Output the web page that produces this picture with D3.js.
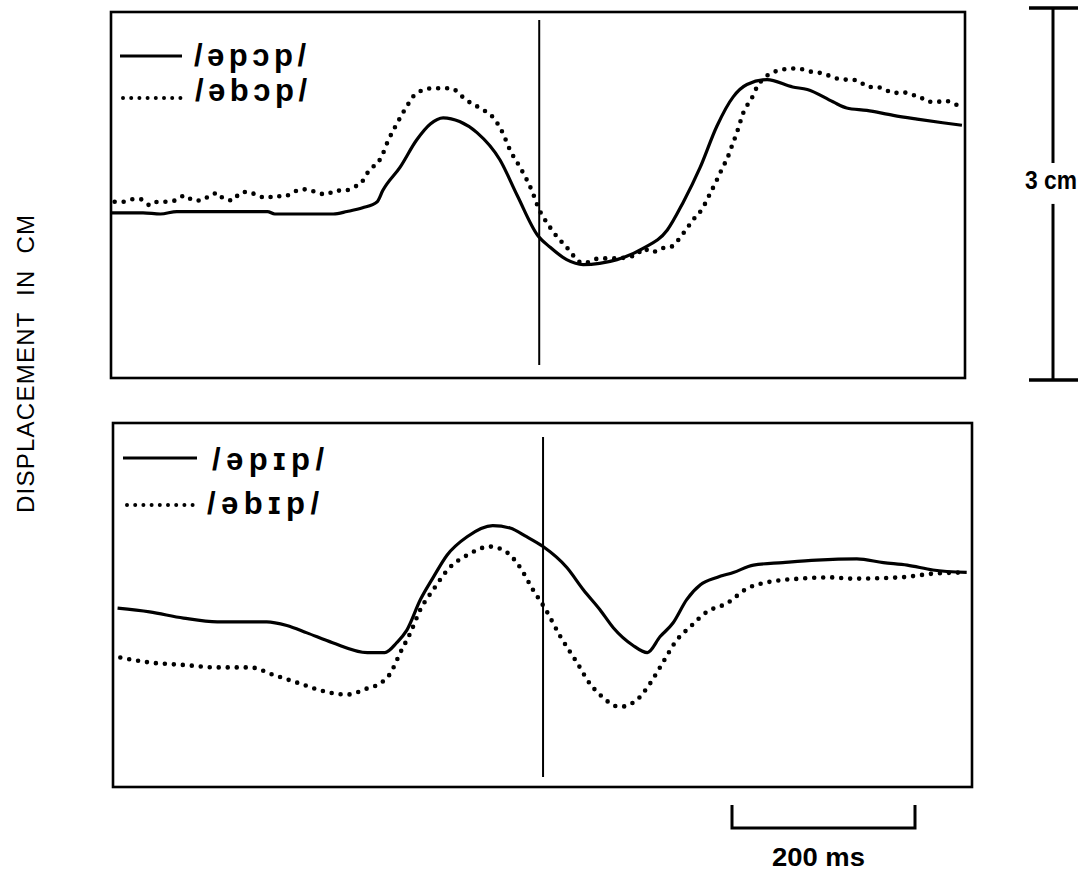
<!DOCTYPE html>
<html>
<head>
<meta charset="utf-8">
<script src="https://cdn.jsdelivr.net/npm/d3@7"></script>
<style>
  html, body { margin: 0; padding: 0; background: #fff; }
  svg { display: block; }
  text { font-family: "Liberation Sans", Arial, "DejaVu Sans", sans-serif; fill: #000; }
</style>
</head>
<body>
<svg id="chart" width="1083" height="872"></svg>
<script>
// ---- Data (time in ms from panel start, displacement in cm above panel floor) ----
const legendTop = ["/əpɔp/", "/əbɔp/"];
const legendBottom = ["/əpɪp/", "/əbɪp/"];
const yAxisLabel = "DISPLACEMENT  IN  CM";
const scaleBarCm = 3;
const scaleBarCmLabel = "3 cm";
const scaleBarMs = 200;
const scaleBarMsLabel = "200 ms";
const eventTimes = [468, 470];

const topSolidT = [0,35,54,72,171,179,243,258,275,291,297,316,334,349,363,381,400,425,444,466,480,498,516,534,553,581,608,625,644,662,680,695,717,745,761,789,804,826,855,881,909,930];
const topSolidD = [1.34,1.34,1.33,1.35,1.35,1.33,1.33,1.35,1.38,1.43,1.52,1.71,1.93,2.06,2.11,2.08,1.99,1.77,1.48,1.16,1.06,0.96,0.92,0.93,0.96,1.05,1.20,1.42,1.71,2.04,2.28,2.38,2.42,2.36,2.34,2.24,2.19,2.17,2.13,2.10,2.07,2.05];

const topDotT = [4,15,24,32,43,51,61,70,81,90,99,108,117,122,133,141,150,160,171,179,188,198,207,215,226,236,245,256,265,272,281,286,292,296,302,313,323,334,352,371,389,403,418,428,436,447,461,466,480,498,516,534,553,564,575,581,592,600,611,620,630,638,646,653,663,668,674,679,684,691,701,706,715,724,733,742,751,761,769,778,789,799,808,819,827,837,846,855,865,873,884,893,903,912,919,930];
const topDotD = [1.43,1.43,1.45,1.45,1.40,1.43,1.43,1.44,1.48,1.44,1.44,1.48,1.50,1.46,1.44,1.50,1.51,1.48,1.46,1.48,1.47,1.50,1.53,1.53,1.50,1.49,1.52,1.52,1.55,1.57,1.67,1.71,1.75,1.80,1.91,2.07,2.20,2.31,2.35,2.35,2.25,2.19,2.11,1.99,1.85,1.71,1.50,1.40,1.22,1.06,0.93,0.97,0.97,0.98,1.00,1.05,1.02,1.05,1.06,1.12,1.22,1.30,1.37,1.47,1.62,1.70,1.79,1.89,1.99,2.15,2.28,2.36,2.44,2.48,2.50,2.51,2.51,2.49,2.48,2.47,2.44,2.42,2.42,2.40,2.36,2.36,2.34,2.31,2.32,2.30,2.28,2.24,2.24,2.25,2.23,2.20];

const botSolidT = [5,40,77,114,168,190,212,240,278,297,310,321,336,350,365,387,415,434,452,470,496,514,532,547,568,584,598,612,627,642,660,678,700,732,769,813,842,868,896,933];
const botSolidD = [1.45,1.42,1.37,1.34,1.34,1.31,1.25,1.17,1.09,1.09,1.17,1.27,1.52,1.70,1.88,2.03,2.12,2.10,2.03,1.95,1.78,1.60,1.44,1.29,1.15,1.09,1.22,1.33,1.52,1.64,1.70,1.74,1.80,1.82,1.84,1.85,1.82,1.80,1.76,1.74];

const botDotT = [8,40,77,114,150,175,204,234,256,278,292,303,314,325,336,350,368,387,412,431,445,459,472,489,507,521,532,554,573,587,601,616,631,649,671,693,715,751,787,806,860,896,929];
const botDotD = [1.05,1.01,0.99,0.97,0.97,0.91,0.84,0.77,0.75,0.80,0.84,0.92,1.09,1.25,1.44,1.60,1.78,1.88,1.95,1.90,1.78,1.60,1.45,1.22,1.01,0.84,0.75,0.65,0.71,0.84,1.01,1.19,1.30,1.42,1.49,1.61,1.66,1.69,1.70,1.69,1.70,1.73,1.74];

// ---- Layout ----
const svg = d3.select("#chart");
const PX_PER_MS = 0.915;   // from the 200 ms scale bar
const PX_PER_CM = 123.3;   // from the 3 cm scale bar

const panels = [
  { box: {left: 111, right: 965, top: 12, bottom: 378}, solid: [topSolidT, topSolidD], dots: [topDotT, topDotD],
    legend: legendTop, event: eventTimes[0], evY: [20, 365],
    leg: { solid: [120, 182, 56], dot: [123, 182, 98], text: [[194, 66], [195, 101]] } },
  { box: {left: 113, right: 972, top: 423, bottom: 787}, solid: [botSolidT, botSolidD], dots: [botDotT, botDotD],
    legend: legendBottom, event: eventTimes[1], evY: [437, 777],
    leg: { solid: [123, 197, 458], dot: [127, 198, 505], text: [[212, 470], [207, 514]] } }
];

panels.forEach(p => {
  const b = p.box;
  const x = d3.scaleLinear().domain([0, (b.right - b.left) / PX_PER_MS]).range([b.left, b.right]);
  const y = d3.scaleLinear().domain([0, (b.bottom - b.top) / PX_PER_CM]).range([b.bottom, b.top]);
  const g = svg.append("g");

  g.append("rect").attr("x", b.left).attr("y", b.top)
    .attr("width", b.right - b.left).attr("height", b.bottom - b.top)
    .attr("fill", "none").attr("stroke", "#000").attr("stroke-width", 2.6);

  g.append("line")
    .attr("x1", x(p.event)).attr("x2", x(p.event))
    .attr("y1", p.evY[0]).attr("y2", p.evY[1])
    .attr("stroke", "#000").attr("stroke-width", 2);

  const curveLine = d3.line().x(d => x(d[0])).y(d => y(d[1])).curve(d3.curveMonotoneX);
  const solidPts = p.solid[0].map((t, i) => [t, p.solid[1][i]]);
  const dotPts = p.dots[0].map((t, i) => [t, p.dots[1][i]]);

  g.append("path").datum(solidPts).attr("d", curveLine)
    .attr("fill", "none").attr("stroke", "#000").attr("stroke-width", 3.2)
    .attr("stroke-linejoin", "round");
  g.append("path").datum(dotPts).attr("d", curveLine)
    .attr("fill", "none").attr("stroke", "#000").attr("stroke-width", 4.6)
    .attr("stroke-linecap", "round").attr("stroke-dasharray", "0 9");

  const L = p.leg;
  g.append("line").attr("x1", L.solid[0]).attr("x2", L.solid[1]).attr("y1", L.solid[2]).attr("y2", L.solid[2])
    .attr("stroke", "#000").attr("stroke-width", 3);
  g.append("line").attr("x1", L.dot[0]).attr("x2", L.dot[1]).attr("y1", L.dot[2]).attr("y2", L.dot[2])
    .attr("stroke", "#000").attr("stroke-width", 4).attr("stroke-linecap", "round").attr("stroke-dasharray", "0 8.2");
  p.legend.forEach((lab, i) => {
    g.append("text").attr("x", L.text[i][0]).attr("y", L.text[i][1])
      .attr("font-size", 31).attr("font-weight", "bold")
      .attr("textLength", 112).attr("lengthAdjust", "spacing")
      .text(lab);
  });
});

// ---- 3 cm scale bar ----
const ybar = d3.scaleLinear().domain([0, scaleBarCm]).range([380, 8]);
const barX = 1053;
const sb = svg.append("g");
sb.append("line").attr("x1", barX).attr("x2", barX).attr("y1", ybar(scaleBarCm)).attr("y2", ybar(1.75))
  .attr("stroke", "#000").attr("stroke-width", 3);
sb.append("line").attr("x1", barX).attr("x2", barX).attr("y1", ybar(1.42)).attr("y2", ybar(0))
  .attr("stroke", "#000").attr("stroke-width", 3);
[0, scaleBarCm].forEach(v => {
  sb.append("line").attr("x1", 1029).attr("x2", 1078).attr("y1", ybar(v)).attr("y2", ybar(v))
    .attr("stroke", "#000").attr("stroke-width", 3.5);
});
sb.append("text").attr("x", 1025).attr("y", 189)
  .attr("font-size", 25).attr("font-weight", "bold")
  .attr("textLength", 52).attr("lengthAdjust", "spacingAndGlyphs").text(scaleBarCmLabel);

// ---- 200 ms scale bar ----
const xbar = d3.scaleLinear().domain([0, scaleBarMs]).range([732, 732 + scaleBarMs * PX_PER_MS]);
const mb = svg.append("g");
mb.append("path")
  .attr("d", `M${xbar(0)},805 L${xbar(0)},828 L${xbar(scaleBarMs)},828 L${xbar(scaleBarMs)},805`)
  .attr("fill", "none").attr("stroke", "#000").attr("stroke-width", 3);
mb.append("text").attr("x", 772).attr("y", 866)
  .attr("font-size", 25).attr("font-weight", "bold")
  .attr("textLength", 93).attr("lengthAdjust", "spacingAndGlyphs").text(scaleBarMsLabel);

// ---- y axis label ----
svg.append("text").attr("transform", "translate(34,513) rotate(-90)")
  .attr("font-size", 24).attr("textLength", 298).attr("lengthAdjust", "spacing")
  .style("white-space", "pre").text(yAxisLabel);
</script>
</body>
</html>
